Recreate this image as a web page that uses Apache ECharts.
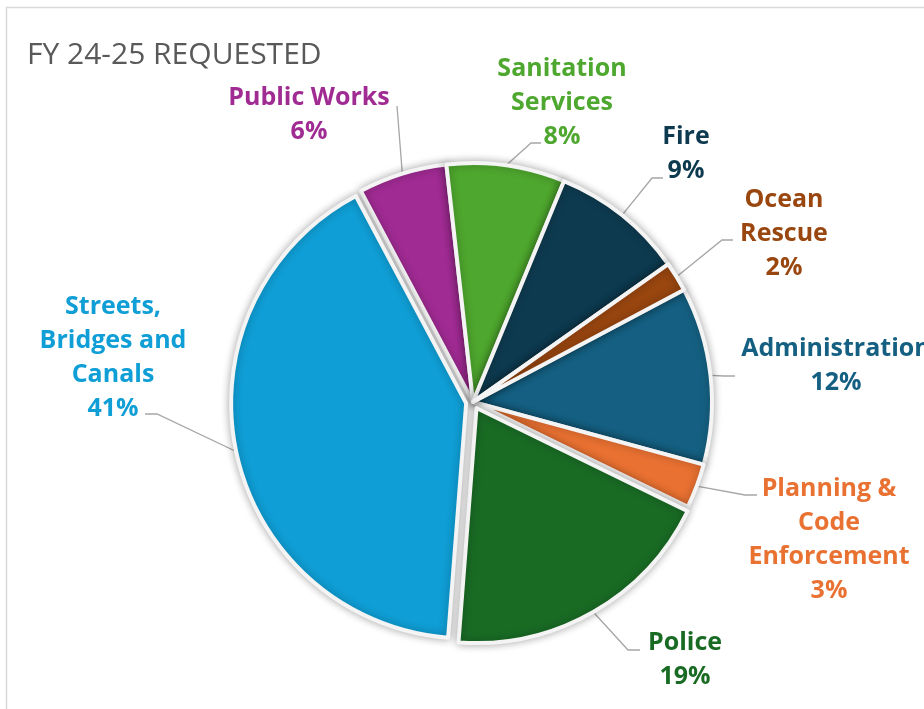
<!DOCTYPE html>
<html>
<head>
<meta charset="utf-8">
<script src="https://cdn.jsdelivr.net/npm/echarts@6/dist/echarts.min.js"></script>
<style>
  html, body { margin: 0; padding: 0; background: #ffffff; overflow: hidden; }
  #chart { width: 924px; height: 709px; }
</style>
</head>
<body>
<div id="chart"></div>
<script>
// Departments, in clockwise drawing order starting with Administration
const departments = [
  'Administration',
  'Planning &\nCode\nEnforcement',
  'Police',
  'Streets,\nBridges and\nCanals',
  'Public Works',
  'Sanitation\nServices',
  'Fire',
  'Ocean\nRescue'
];
// Share of the FY 24-25 requested budget (percent)
const shares = [12, 3, 19, 41, 6, 8, 9, 2];
// Slices pulled out from the centre of the pie
const explodedDepartments = ['Police', 'Streets,\nBridges and\nCanals'];

// ---- styling / layout ----
const sliceColors = ['#156082', '#E97132', '#196B24', '#0F9ED5', '#A02B93', '#4EA72E', '#0E3A4F', '#99460F'];
// centre of each label block
const labelAnchors = [[836, 366], [829, 540], [685, 660], [113, 358], [309, 115], [562, 103], [686, 154], [784, 234]];
// where each leader line meets its label
const leaderEnds = [[735, 376], [757, 495], [640, 650], [145, 414], [397, 106], [541, 143], [663, 178], [733, 240]];
// horizontal run of each leader line next to its label (negative = runs to the right)
const leaderRuns = [11, 12, 12, -12, 0, 10, 11, 11];

const CX = 473, CY = 402;        // pie centre
const RADIUS = 239;              // radius of the resting slices
const RADIUS_OUT = 235;          // radius of the pulled-out slices
const EXPLODE = 7;               // how far pulled-out slices move
const START_ANGLE = 28;          // where Administration begins
const FONT = '"Open Sans", "Liberation Sans", sans-serif';

const total = shares.reduce((a, b) => a + b, 0);

function labelLayout(params) {
  const i = params.dataIndex;
  const end = leaderEnds[i];
  const elbow = [end[0] - leaderRuns[i], end[1]];
  const start = params.labelLinePoints ? params.labelLinePoints[0] : elbow;
  return {
    x: labelAnchors[i][0],
    y: labelAnchors[i][1],
    align: 'center',
    verticalAlign: 'middle',
    labelLinePoints: [start, elbow, end]
  };
}

// one pie series showing only the departments in `visible`
function pieSeries(center, radius, visible) {
  return {
    type: 'pie',
    center: center,
    radius: radius,
    startAngle: START_ANGLE,
    clockwise: true,
    avoidLabelOverlap: false,
    silent: true,
    animation: false,
    emphasis: { disabled: true },
    labelLayout: labelLayout,
    data: departments.map((name, i) => {
      const on = visible.includes(name);
      return {
        name: name,
        value: shares[i],
        itemStyle: on ? {
          color: sliceColors[i],
          borderColor: '#f4f4f4',
          borderWidth: 4,
          shadowBlur: 8,
          shadowColor: 'rgba(0,0,0,0.3)'
        } : {
          color: 'rgba(0,0,0,0)',
          borderWidth: 0,
          shadowBlur: 0
        },
        label: {
          show: on,
          position: 'outside',
          formatter: (p) => p.name + '\n' + p.value + '%',
          color: sliceColors[i],
          fontFamily: FONT,
          fontWeight: 'bold',
          fontSize: 25,
          lineHeight: 34,
          align: 'center'
        },
        labelLine: {
          show: on,
          lineStyle: { color: '#A6A6A6', width: 1.3 }
        }
      };
    })
  };
}

const series = [pieSeries([CX, CY], RADIUS, departments.filter(d => !explodedDepartments.includes(d)))];

// pulled-out slices: shift each along its own bisector
let cum = 0;
departments.forEach((name, i) => {
  const mid = (cum + shares[i] / 2) / total;
  cum += shares[i];
  if (!explodedDepartments.includes(name)) return;
  const a = (START_ANGLE - mid * 360) * Math.PI / 180;
  const c = [CX + EXPLODE * Math.cos(a), CY - EXPLODE * Math.sin(a)];
  series.push(pieSeries(c, RADIUS_OUT, [name]));
});

const chart = echarts.init(document.getElementById('chart'), null, { renderer: 'canvas' });
chart.setOption({
  backgroundColor: '#ffffff',
  animation: false,
  title: {
    text: 'FY 24-25 REQUESTED',
    left: 27,
    top: 40,
    padding: 0,
    textStyle: { fontFamily: '"Open Sans", sans-serif', fontWeight: 'normal', fontSize: 30, color: '#595959' }
  },
  graphic: [{
    type: 'rect',
    silent: true,
    shape: { x: 6.5, y: 7.5, width: 940, height: 720 },
    style: { fill: 'none', stroke: '#D9D9D9', lineWidth: 1.5 }
  }],
  series: series
});
</script>
</body>
</html>
